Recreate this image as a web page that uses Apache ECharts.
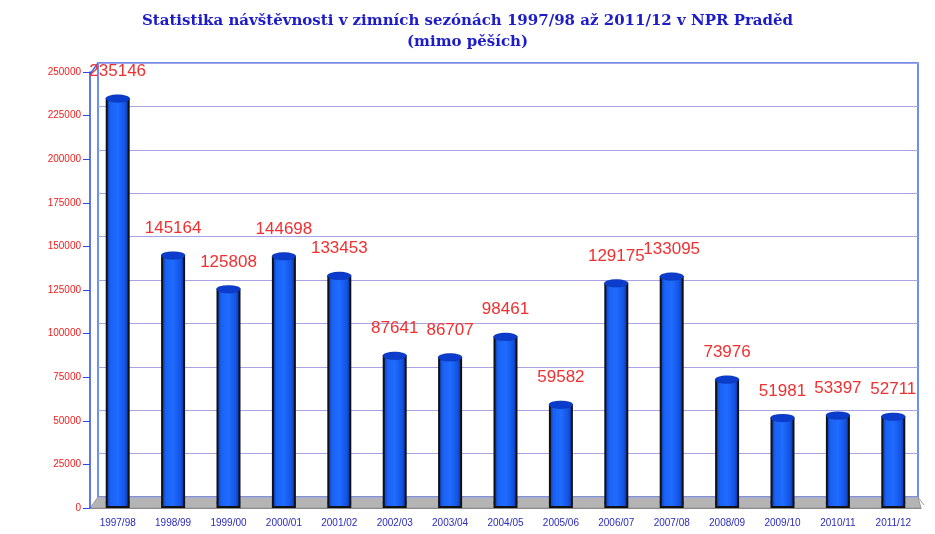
<!DOCTYPE html>
<html>
<head>
<meta charset="utf-8">
<script src="https://cdn.jsdelivr.net/npm/echarts@6/dist/echarts.min.js"></script>
<style>
  html, body { margin: 0; padding: 0; background: #fff; }
  #chart { width: 935px; height: 534px; }
</style>
</head>
<body>
<div id="chart"></div>
<script>
// sezóny a počty návštěvníků
const seasons = ['1997/98', '1998/99', '1999/00', '2000/01', '2001/02', '2002/03', '2003/04', '2004/05',
  '2005/06', '2006/07', '2007/08', '2008/09', '2009/10', '2010/11', '2011/12']
const visitors = [235146, 145164, 125808, 144698, 133453, 87641, 86707, 98461,
  59582, 129175, 133095, 73976, 51981, 53397, 52711]
const yTicks = [0, 25000, 50000, 75000, 100000, 125000, 150000, 175000, 200000, 225000, 250000]

const yMax = yTicks[yTicks.length - 1]
const yStep = yTicks[1] - yTicks[0]

const chart = echarts.init(document.getElementById('chart'))

const barFill = new echarts.graphic.LinearGradient(0, 0, 1, 0, [
  { offset: 0, color: '#0a2e9e' },
  { offset: 0.2, color: '#1a62f4' },
  { offset: 0.5, color: '#1f6cff' },
  { offset: 0.8, color: '#1454e4' },
  { offset: 1, color: '#0a2a90' }
])

const option = {
  animation: false,
  title: {
    text: 'Statistika návštěvnosti v zimních sezónách 1997/98 až 2011/12 v NPR Praděd\n(mimo pěších)',
    left: 'center',
    top: 6,
    textStyle: {
      fontFamily: 'DejaVu Serif',
      fontWeight: 'bold',
      fontSize: 15,
      color: '#1c1cc8',
      lineHeight: 21
    }
  },
  graphic: [
    // šedá podlaha
    {
      type: 'polygon',
      z: 0,
      shape: { points: [[90, 508], [921, 508], [918, 497], [98, 497]] },
      style: { fill: '#b4b4b4', stroke: '#9a9a9a', lineWidth: 1 }
    },
    // boční stěna
    {
      type: 'polyline',
      z: 0,
      shape: { points: [[90, 74], [98, 63]] },
      style: { stroke: '#3a6cf0', lineWidth: 1.5 }
    },
    {
      type: 'polyline',
      z: 0,
      shape: { points: [[918, 497], [924, 505]] },
      style: { stroke: '#9a9a9a', lineWidth: 1 }
    }
  ],
  grid: [
    { left: 90, right: 14, top: 72, bottom: 26 },
    { left: 98, right: 17, top: 63, bottom: 37, show: true, borderColor: '#3a6cf0', borderWidth: 1.5, z: 0 }
  ],
  xAxis: [
    {
      type: 'category',
      gridIndex: 0,
      data: seasons,
      axisLine: { lineStyle: { color: '#8a8a8a' } },
      axisTick: { length: 7, lineStyle: { color: '#777' } },
      axisLabel: { color: '#2a2ac0', fontFamily: 'Arial', fontSize: 10, margin: 10 }
    },
    {
      type: 'category',
      gridIndex: 1,
      data: seasons,
      show: false
    }
  ],
  yAxis: [
    {
      type: 'value',
      gridIndex: 0,
      min: 0,
      max: yMax,
      interval: yStep,
      axisLine: { show: true, lineStyle: { color: '#2a4ae0', width: 1.5 } },
      axisTick: { show: true, length: 7, lineStyle: { color: '#2a4ae0' } },
      axisLabel: {
        color: '#f02020',
        fontFamily: 'Arial',
        fontSize: 10,
        margin: 9,
        formatter: (v) => String(v)
      },
      splitLine: { show: false }
    },
    {
      type: 'value',
      gridIndex: 1,
      min: 0,
      max: yMax,
      interval: yStep,
      axisLine: { show: false },
      axisTick: { show: false },
      axisLabel: { show: false },
      splitLine: { lineStyle: { color: '#a8a4e4', width: 1 } }
    }
  ],
  series: [
    {
      type: 'bar',
      xAxisIndex: 0,
      yAxisIndex: 0,
      data: visitors,
      barWidth: 24,
      z: 3,
      itemStyle: { color: barFill, borderColor: '#111', borderWidth: 2 },
      label: {
        show: true,
        position: 'top',
        distance: 18,
        color: '#f03030',
        fontFamily: 'Arial',
        fontSize: 17
      }
    },
    {
      // horní víčko válce
      type: 'pictorialBar',
      xAxisIndex: 0,
      yAxisIndex: 0,
      data: visitors,
      symbol: 'circle',
      symbolSize: [24, 8],
      symbolPosition: 'end',
      symbolOffset: [0, '-50%'],
      z: 4,
      itemStyle: { color: '#0b3ccc', borderColor: '#000', borderWidth: 2 }
    },
    {
      // spodní zaoblení
      type: 'pictorialBar',
      xAxisIndex: 0,
      yAxisIndex: 0,
      data: visitors,
      symbol: 'circle',
      symbolSize: [24, 8],
      symbolPosition: 'start',
      symbolOffset: [0, '-10%'],
      z: 2,
      itemStyle: { color: '#1048d8', borderColor: '#111', borderWidth: 2 }
    }
  ]
}

chart.setOption(option)
</script>
</body>
</html>
